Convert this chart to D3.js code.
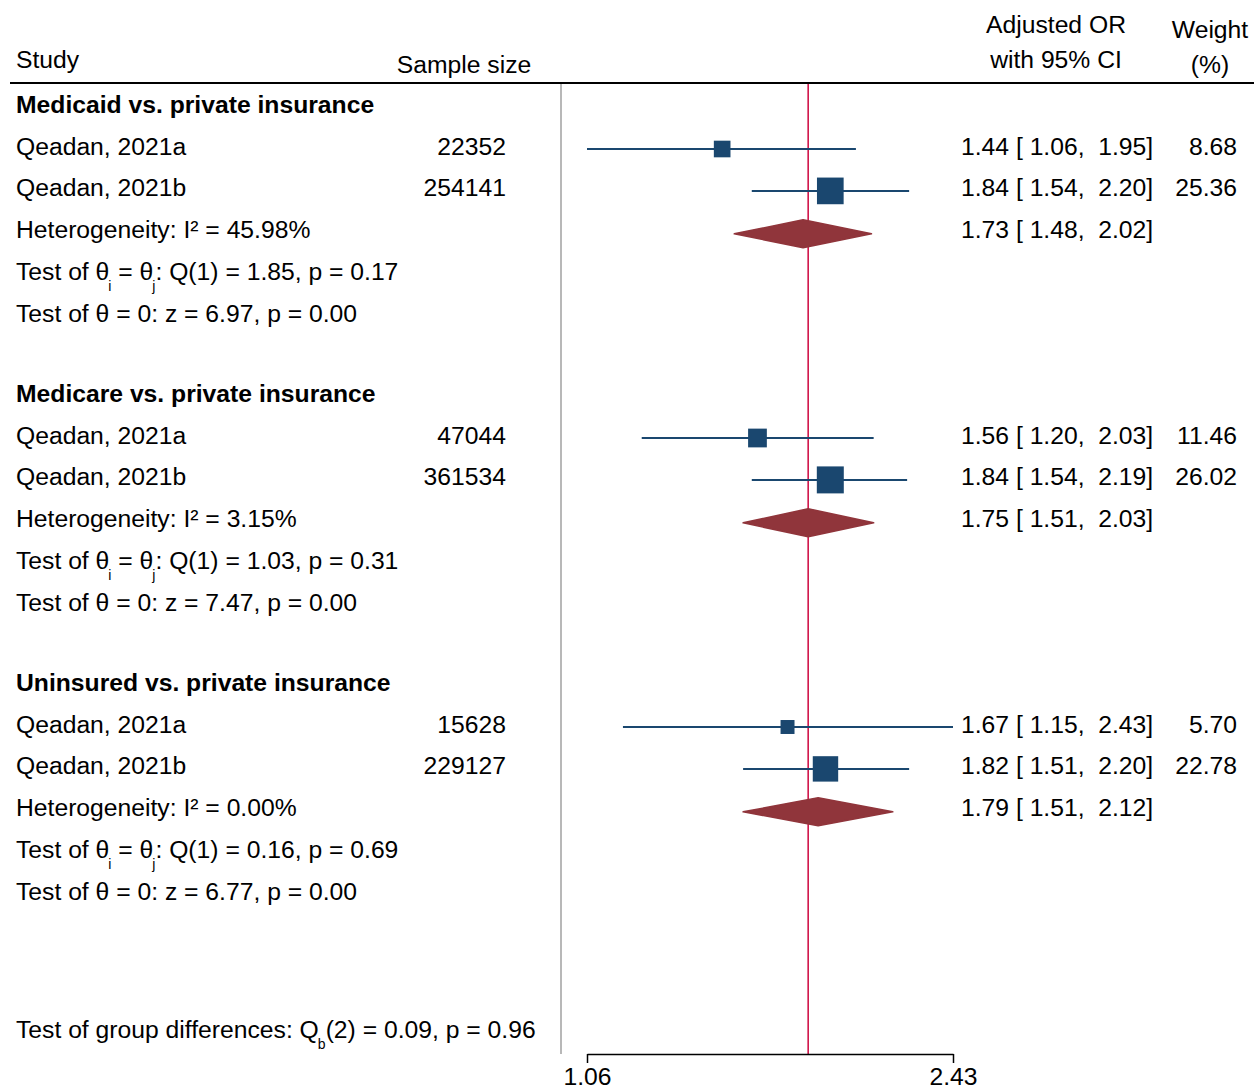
<!DOCTYPE html>
<html>
<head>
<meta charset="utf-8">
<script src="https://cdn.jsdelivr.net/npm/d3@7"></script>
<style>
  html, body { margin: 0; padding: 0; background: #fff; }
  svg { display: block; }
  text { font-family: "Liberation Sans", Arial, sans-serif; font-size: 24.7px; fill: #000; white-space: pre; }
</style>
</head>
<body>
<svg id="chart" width="1254" height="1089"></svg>
<script>
// ---- data ----
const groups = ["Medicaid vs. private insurance", "Medicare vs. private insurance", "Uninsured vs. private insurance"];
const studies = ["Qeadan, 2021a", "Qeadan, 2021b"];
const sampleSizes = [[22352, 254141], [47044, 361534], [15628, 229127]];
const studyOR = [[1.44, 1.84], [1.56, 1.84], [1.67, 1.82]];
const studyLow = [[1.06, 1.54], [1.20, 1.54], [1.15, 1.51]];
const studyHigh = [[1.95, 2.20], [2.03, 2.19], [2.43, 2.20]];
const weights = [[8.68, 25.36], [11.46, 26.02], [5.70, 22.78]];
const pooledOR = [1.73, 1.75, 1.79];
const pooledLow = [1.48, 1.51, 1.51];
const pooledHigh = [2.02, 2.03, 2.12];
const i2 = [45.98, 3.15, 0.00];
const qStat = [1.85, 1.03, 0.16];
const qP = [0.17, 0.31, 0.69];
const zStat = [6.97, 7.47, 6.77];
const zP = [0.00, 0.00, 0.00];
const overallOR = 1.75;
const groupDiffQ = 0.09;
const groupDiffDf = 2;
const groupDiffP = 0.96;
const axisTicks = [1.06, 2.43];

// ---- layout ----
const svg = d3.select("#chart");
const f2 = d3.format(".2f");
const x = d3.scaleLog().domain([1.06, 2.43]).range([587, 953]);
const rowY = d3.scaleLinear().domain([0, 1]).range([112.6, 154.5]);   // baseline of row r within a group
const groupOffset = 289;
const baseline = (g, r) => rowY(r) + g * groupOffset;
const markY = (g, r) => baseline(g, r) - 5.5;
const plotTop = 83, plotBottom = 1054;
const navy = "#1a476f", maroon = "#90353b";

// header
svg.append("text").attr("x", 16).attr("y", 68).text("Study");
svg.append("text").attr("x", 464).attr("y", 73).attr("text-anchor", "middle").text("Sample size");
svg.append("text").attr("x", 1056).attr("y", 33).attr("text-anchor", "middle").text("Adjusted OR");
svg.append("text").attr("x", 1056).attr("y", 68).attr("text-anchor", "middle").text("with 95% CI");
svg.append("text").attr("x", 1210).attr("y", 38).attr("text-anchor", "middle").text("Weight");
svg.append("text").attr("x", 1210).attr("y", 73).attr("text-anchor", "middle").text("(%)");
svg.append("line").attr("x1", 10).attr("x2", 1254).attr("y1", plotTop).attr("y2", plotTop)
  .attr("stroke", "#000").attr("stroke-width", 2);

// reference lines
svg.append("line").attr("x1", 561).attr("x2", 561).attr("y1", plotTop + 1).attr("y2", plotBottom)
  .attr("stroke", "#a0a0a0").attr("stroke-width", 1.5);
svg.append("line").attr("x1", x(overallOR)).attr("x2", x(overallOR)).attr("y1", plotTop + 1).attr("y2", plotBottom)
  .attr("stroke", "#d0144a").attr("stroke-width", 1.6);

// effect text like "1.44 [ 1.06,  1.95]"
const ciText = (e, lo, hi) => `${f2(e)} [ ${f2(lo)},  ${f2(hi)}]`;

// text with θ subscripts: "Test of θi = θj: Q(1) = ..., p = ..."
function testHetero(g) {
  const t = svg.append("text").attr("x", 16).attr("y", baseline(g, 4));
  t.append("tspan").text("Test of θ");
  t.append("tspan").attr("dx", -1).attr("dy", 11).style("font-size", "14px").text("i");
  t.append("tspan").attr("dy", -11).text(" = θ");
  t.append("tspan").attr("dx", -1).attr("dy", 11).style("font-size", "14px").text("j");
  t.append("tspan").attr("dy", -11).text(`: Q(1) = ${f2(qStat[g])}, p = ${f2(qP[g])}`);
}

groups.forEach((name, g) => {
  svg.append("text").attr("x", 16).attr("y", baseline(g, 0))
    .style("font-weight", "bold").text(name);

  studies.forEach((s, i) => {
    const r = i + 1, y = markY(g, r);
    svg.append("text").attr("x", 16).attr("y", baseline(g, r)).text(s);
    svg.append("text").attr("x", 506).attr("y", baseline(g, r)).attr("text-anchor", "end").text(sampleSizes[g][i]);
    svg.append("text").attr("x", 961).attr("y", baseline(g, r)).text(ciText(studyOR[g][i], studyLow[g][i], studyHigh[g][i]));
    svg.append("text").attr("x", 1237).attr("y", baseline(g, r)).attr("text-anchor", "end").text(f2(weights[g][i]));

    svg.append("line").attr("x1", x(studyLow[g][i])).attr("x2", x(studyHigh[g][i]))
      .attr("y1", y).attr("y2", y).attr("stroke", navy).attr("stroke-width", 2);
    const side = 2.5 + 4.8 * Math.sqrt(weights[g][i]);
    svg.append("rect").attr("x", x(studyOR[g][i]) - side / 2).attr("y", y - side / 2)
      .attr("width", side).attr("height", side).attr("fill", navy);
  });

  // pooled row
  const yp = markY(g, 3) + 1;
  svg.append("text").attr("x", 16).attr("y", baseline(g, 3)).text(`Heterogeneity: I² = ${f2(i2[g])}%`);
  svg.append("text").attr("x", 961).attr("y", baseline(g, 3)).text(ciText(pooledOR[g], pooledLow[g], pooledHigh[g]));
  const h = 14;
  svg.append("path")
    .attr("d", `M${x(pooledLow[g])},${yp} L${x(pooledOR[g])},${yp - h} L${x(pooledHigh[g])},${yp} L${x(pooledOR[g])},${yp + h} Z`)
    .attr("fill", maroon).attr("stroke", maroon).attr("stroke-width", 1.5).attr("stroke-linejoin", "round");

  testHetero(g);
  svg.append("text").attr("x", 16).attr("y", baseline(g, 5)).text(`Test of θ = 0: z = ${f2(zStat[g])}, p = ${f2(zP[g])}`);
});

// group differences
const gd = svg.append("text").attr("x", 16).attr("y", 1038);
gd.append("tspan").text("Test of group differences: Q");
gd.append("tspan").attr("dx", -1).attr("dy", 11).style("font-size", "14px").text("b");
gd.append("tspan").attr("dy", -11).text(`(${groupDiffDf}) = ${f2(groupDiffQ)}, p = ${f2(groupDiffP)}`);

// x axis
const axis = svg.append("g").attr("transform", `translate(0,${plotBottom})`)
  .call(d3.axisBottom(x).tickValues(axisTicks).tickFormat(f2).tickSize(9).tickSizeOuter(0));
axis.select(".domain").attr("stroke", "#000").attr("stroke-width", 1.5);
axis.selectAll(".tick line").attr("stroke", "#000").attr("stroke-width", 1.5);
axis.selectAll(".tick text").style("font-family", "Liberation Sans, Arial, sans-serif")
  .style("font-size", "24.7px").attr("fill", "#000").attr("dy", "0").attr("y", 31);
</script>
</body>
</html>
